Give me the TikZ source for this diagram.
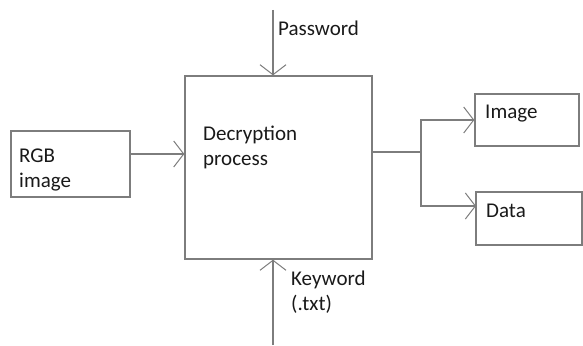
\documentclass[tikz,border=0pt]{standalone}
\usepackage{fontspec}
\setmainfont{Carlito}
\usetikzlibrary{arrows.meta}
\definecolor{linegray}{RGB}{125,125,125}
\definecolor{txt}{RGB}{25,25,25}
\begin{document}
\begin{tikzpicture}[x=1pt,y=-1pt,
  box/.style={draw=linegray, line width=1.3pt, minimum width=#1, inner sep=0pt},
  lbl/.style={font=\fontsize{21}{25}\selectfont, text=txt, anchor=base west, inner sep=0pt},
  wire/.style={draw=linegray, line width=1.3pt},
  conn/.style={wire, -{Straight Barb[length=10pt,width=26pt,line width=1pt]}}]
\useasboundingbox (0,0) rectangle (583,345);
% boxes
\node[box=187pt, minimum height=183pt] (main) at (278.5,167.5) {};
\node[box=119pt, minimum height=66pt] (rgb) at (70.5,164) {};
\node[box=104pt, minimum height=52pt] (img) at (527,120) {};
\node[box=106pt, minimum height=53pt] (data) at (529,218.5) {};
% labels
\node[lbl] (tpw) at (278,36) {Password};
\node[lbl] (tdec) at (203,140) {Decryption};
\node[lbl] (tproc) at (203,165) {process};
\node[lbl] (trgb) at (19,162) {RGB};
\node[lbl] (trgbi) at (19,187) {image};
\node[lbl] (timg) at (485,118) {Image};
\node[lbl] (tdata) at (486,217) {Data};
\node[lbl] (tkw) at (291,285) {Keyword};
\node[lbl] (ttxt) at (291,310) {(.txt)};
% connectors
\coordinate (pw) at (273,10);
\coordinate (kw) at (273,345);
\coordinate (ra) at (130,154);
\coordinate (split) at (421,152);
\coordinate (din) at (476,206);
\draw[conn] (pw) -- (pw |- main.north);
\draw[conn] (kw) -- (kw |- main.south);
\draw[conn] (ra) -- (ra -| main.west);
\draw[wire] (split -| main.east) -- (split);
\draw[conn] (split) |- (img.west);
\draw[conn] (split) |- (din);
\end{tikzpicture}
\end{document}
